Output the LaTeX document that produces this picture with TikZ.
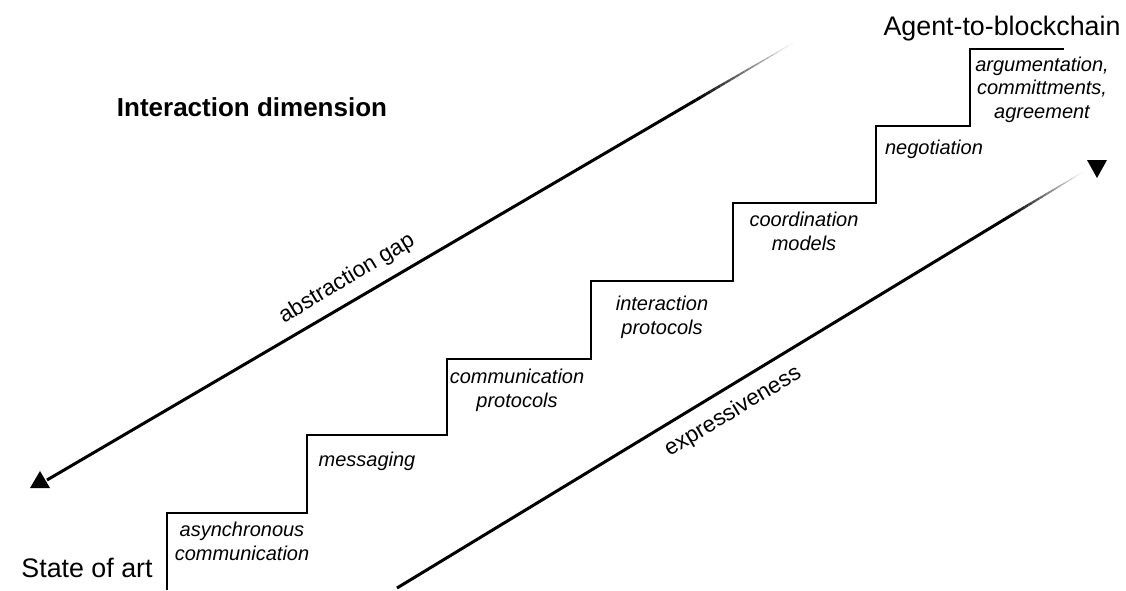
\documentclass[tikz,border=0pt]{standalone}
\usepackage{fontspec}
\setmainfont{Liberation Sans}
\usetikzlibrary{calc}

\tikzset{
	steplabel/.style={font=\fontsize{20}{23.5}\selectfont\itshape, align=center, inner sep=0pt, anchor=base},
	endlabel/.style={font=\fontsize{26.8}{30}\selectfont, inner sep=0pt, anchor=base},
	axislabel/.style={font=\fontsize{22.5}{26}\selectfont, inner sep=0pt, rotate=31},
	stair/.style={line width=2pt},
	gapline/.style={line width=3pt},
	tiptri/.style={fill=black, line join=round}
}

% solid part from #1 to #2, then fading out towards #3
\newcommand{\fadeline}[3]{
	\draw[gapline] (#1) -- (#2);
	\foreach \i [evaluate=\i as \p using int(100-5*\i),
	             evaluate=\i as \w using 3-0.12*\i,
	             evaluate=\i as \ta using \i/20,
	             evaluate=\i as \tb using (\i+1)/20] in {0,...,19}
		\draw[line width=\w pt, black!\p] ($(#2)!\ta!(#3)$) -- ($(#2)!\tb!(#3)$);
}

\begin{document}
\begin{tikzpicture}[x=1pt,y=-1pt]

	\useasboundingbox (0,0) rectangle (1126,590);

	\node[endlabel, font=\fontsize{26}{30}\selectfont\bfseries] (title) at (252,116) {Interaction dimension};
	\node[endlabel] (start) at (87,577) {State of art};
	\node[endlabel] (goal) at (1002,35) {Agent-to-blockchain};

	% staircase
	\draw[stair] (167,590) |- (307,513) |- (447,435) |- (591,359) |- (733,281) |- (876,203) |- (970,126) |- (1064,49);

	\node[steplabel] (async) at (242,560) {asynchronous\\communication};
	\node[steplabel] (msg) at (367,466) {messaging};
	\node[steplabel] (comm) at (517,407) {communication\\protocols};
	\node[steplabel] (inter) at (662,334) {interaction\\protocols};
	\node[steplabel] (coord) at (804,250) {coordination\\models};
	\node[steplabel] (nego) at (934,154) {negotiation};
	\node[steplabel] (argu) at (1042,118) {argumentation,\\committments,\\agreement};

	% abstraction gap
	\coordinate (gaptip) at (40,480);
	\coordinate (gapstart) at (47,480);
	\coordinate (gapfade) at (696,100);
	\coordinate (gapend) at (793,43);
	\fadeline{gapstart}{gapfade}{gapend}
	\fill[tiptri] (gaptip) ++(0,-9) -- ++(10,17) -- ++(-20,0) -- cycle;
	\node[axislabel] (gap) at (347,279) {abstraction gap};

	% expressiveness
	\coordinate (expstart) at (397,588);
	\coordinate (expfade) at (1010,216);
	\coordinate (expend) at (1083,172);
	\coordinate (exptip) at (1097,167);
	\fadeline{expstart}{expfade}{expend}
	\fill[tiptri] (exptip) ++(-10,-7) -- ++(20,0) -- ++(-10,18) -- cycle;
	\node[axislabel] (expr) at (733,412) {expressiveness};

\end{tikzpicture}
\end{document}
